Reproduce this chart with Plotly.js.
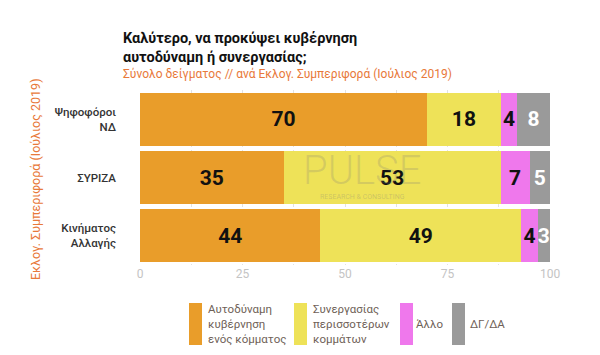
<!DOCTYPE html>
<html><head><meta charset="utf-8">
<script src="https://cdn.plot.ly/plotly-3.0.1.min.js"></script>
<style>html,body{margin:0;padding:0;background:#fff}#chart{width:600px;height:355px}</style>
</head><body><div id="chart"></div>
<script>
const categories = ["Ψηφοφόροι<br>ΝΔ", "ΣΥΡΙΖΑ", "Κινήματος<br>Αλλαγής"];
const seriesNames = ["Αυτοδύναμη<br>κυβέρνηση<br>ενός κόμματος", "Συνεργασίας<br>περισσοτέρων<br>κομμάτων", "Άλλο", "ΔΓ/ΔΑ"];
const autodynami = [70, 35, 44];
const synergasia = [18, 53, 49];
const allo = [4, 7, 4];
const dgda = [8, 5, 3];
const xTicks = [0, 25, 50, 75, 100];

const seriesValues = [autodynami, synergasia, allo, dgda];
const colors = ["#E99D2A", "#EEE258", "#EF78EC", "#9A9A9A"];
const textColors = ["#111", "#111", "#111", "#fff"];

const traces = seriesValues.map((vals, i) => ({
  type: "bar", orientation: "h", y: categories, x: vals, name: seriesNames[i],
  marker: {color: colors[i]}, text: vals.map(String), textposition: "inside",
  insidetextanchor: "middle", textangle: 0, constraintext: "none",
  textfont: {family: "Roboto", size: 21, color: textColors[i], weight: 700},
  hoverinfo: "skip", showlegend: false
}));

// plot area pixel geometry
const L = 140, R = 550, T = 90, B = 265;
const px = x => (x - L) / (R - L);
const py = y => (B - y) / (B - T);

const legendPos = [{sx: 189, tx: 206}, {sx: 294, tx: 311}, {sx: 400, tx: 414}, {sx: 452, tx: 468}];
const shapes = [];
const annotations = [];
seriesNames.forEach((n, i) => {
  shapes.push({type: "rect", xref: "paper", yref: "paper", x0: px(legendPos[i].sx), x1: px(legendPos[i].sx + 13),
    y0: py(345), y1: py(303), fillcolor: colors[i], line: {width: 0}});
  annotations.push({xref: "paper", yref: "paper", x: px(legendPos[i].tx), y: py(324), xanchor: "left", yanchor: "middle",
    text: n, showarrow: false, align: "left", font: {family: "Roboto", size: 11.5, color: "#6f5f57"}});
});

annotations.push(
  {xref: "paper", yref: "paper", x: px(121), y: py(28), xanchor: "left", yanchor: "top", showarrow: false, align: "left",
   text: "<b>Καλύτερο, να προκύψει κυβέρνηση<br>αυτοδύναμη ή συνεργασίας;</b>",
   font: {family: "Roboto", size: 14.5, color: "#111"}},
  {xref: "paper", yref: "paper", x: px(121), y: py(73.5), xanchor: "left", yanchor: "middle", showarrow: false, align: "left",
   text: "Σύνολο δείγματος // ανά Εκλογ. Συμπεριφορά (Ιούλιος 2019)",
   font: {family: "Roboto", size: 12, color: "#E8793A"}},
  {xref: "paper", yref: "paper", x: px(35), y: py(180), xanchor: "center", yanchor: "middle", showarrow: false, textangle: -90,
   text: "Εκλογ. Συμπεριφορά (Ιούλιος 2019)", font: {family: "Roboto", size: 12.5, color: "#E8793A"}},
  {xref: "paper", yref: "paper", x: px(362), y: py(170), xanchor: "center", yanchor: "middle", showarrow: false,
   text: "PULSE", font: {family: "Roboto", size: 40, color: "rgba(120,120,120,0.22)", weight: 300}},
  {xref: "paper", yref: "paper", x: px(362), y: py(197), xanchor: "center", yanchor: "middle", showarrow: false,
   text: "RESEARCH & CONSULTING", font: {family: "Roboto", size: 7, color: "rgba(120,120,120,0.3)"}}
);

const layout = {
  width: 600, height: 355, margin: {l: L, r: 600 - R, t: T, b: 355 - B},
  paper_bgcolor: "#fff", plot_bgcolor: "#fff", barmode: "stack", bargap: 0.09,
  showlegend: false,
  xaxis: {range: [0, 100], tickvals: xTicks, ticktext: xTicks.map(String), showgrid: true, gridcolor: "#e2e2e2",
    griddash: "dot", zeroline: false, showline: false, ticks: "",
    tickfont: {family: "Roboto", size: 12, color: "#c4c4c4"},
    minor: {dtick: 12.5, showgrid: true, gridcolor: "#e2e2e2", griddash: "dot"}, fixedrange: true},
  yaxis: {autorange: "reversed", showgrid: false, zeroline: false, showline: false, ticks: "", ticklabelstandoff: 23,
    tickfont: {family: "Roboto", size: 11.5, color: "#333", weight: 500}, fixedrange: true},
  shapes: shapes, annotations: annotations
};
Plotly.newPlot("chart", traces, layout, {displayModeBar: false, staticPlot: true});
</script></body></html>
